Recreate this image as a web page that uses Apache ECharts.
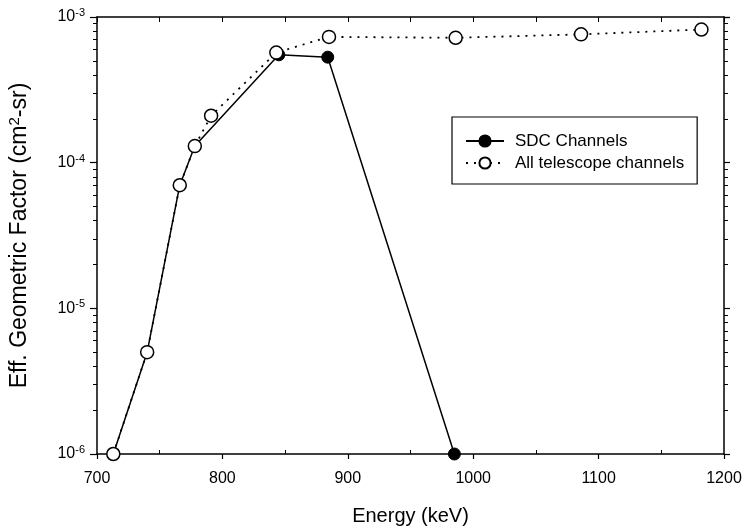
<!DOCTYPE html>
<html>
<head>
<meta charset="utf-8">
<script src="https://cdn.jsdelivr.net/npm/echarts@6/dist/echarts.min.js"></script>
<style>
  html, body { margin: 0; padding: 0; background: #fff; }
  #container { width: 743px; height: 529px; }
</style>
</head>
<body>
<div id="container"></div>
<script>
// data
var sdcEnergy = [713, 740, 766, 778, 845, 884, 985];
var sdcFactor = [1.0e-6, 5.0e-6, 7.0e-5, 1.3e-4, 5.5e-4, 5.3e-4, 1.0e-6];

var allEnergy = [713, 740, 766, 778, 791, 843, 885, 986, 1086, 1182];
var allFactor = [1.0e-6, 5.0e-6, 7.0e-5, 1.3e-4, 2.1e-4, 5.7e-4, 7.3e-4, 7.2e-4, 7.6e-4, 8.2e-4];

var xMinorTicks = [750, 850, 950, 1050, 1150];
var seriesNames = ['SDC Channels', 'All telescope channels'];

function pairs(xs, ys) {
    var out = [];
    for (var i = 0; i < xs.length; i++) out.push([xs[i], ys[i]]);
    return out;
}

// 2..9 in every decade between 1e-6 and 1e-3
var yMinorTicks = [];
for (var e = -6; e < -3; e++) {
    for (var m = 2; m <= 9; m++) yMinorTicks.push(m * Math.pow(10, e));
}

var font = 'Liberation Sans';
var black = '#000';

function expLabel(v) {
    var ex = Math.round(Math.log(v) / Math.LN10);
    return '{b|10}{s|' + ex + '}';
}

var dom = document.getElementById('container');
var myChart = echarts.init(dom);

var logBase = {
    type: 'log',
    logBase: 10,
    min: 1e-6,
    max: 1e-3,
    splitLine: { show: false }
};

option = {
    backgroundColor: '#fff',
    animation: false,
    textStyle: { fontFamily: font, color: black },
    grid: { left: 97, right: 19, top: 17, bottom: 75, outerBoundsMode: 'none' },
    legend: {
        left: 452,
        top: 117,
        orient: 'vertical',
        padding: [15, 13, 12, 13],
        itemGap: 4,
        itemWidth: 38,
        itemHeight: 14,
        borderColor: black,
        borderWidth: 1.2,
        backgroundColor: '#fff',
        selectedMode: false,
        textStyle: { fontFamily: font, fontSize: 17, lineHeight: 18, color: black, padding: [0, 0, 0, 6] },
        data: seriesNames
    },
    xAxis: [{
        type: 'value',
        position: 'bottom',
        min: 700,
        max: 1200,
        interval: 100,
        name: 'Energy (keV)',
        nameLocation: 'middle',
        nameGap: 52,
        nameTextStyle: { fontFamily: font, fontSize: 20, color: black },
        axisLine: { lineStyle: { color: black, width: 1.5 } },
        axisTick: { inside: false, length: 5, lineStyle: { color: black, width: 1.2 } },
        axisLabel: {
            fontFamily: font, fontSize: 16, color: black, margin: 17,
            formatter: function(v) { return String(v); }
        },
        splitLine: { show: false }
    }, {
        type: 'value',
        position: 'bottom',
        min: 700,
        max: 1200,
        axisLine: { show: false },
        axisTick: { inside: true, length: 4, customValues: xMinorTicks, lineStyle: { color: black, width: 1 } },
        axisLabel: { show: false },
        splitLine: { show: false }
    }, {
        type: 'value',
        position: 'top',
        min: 700,
        max: 1200,
        interval: 50,
        axisLine: { lineStyle: { color: black, width: 1.5 } },
        axisTick: { inside: true, length: 5, lineStyle: { color: black, width: 1 } },
        axisLabel: { show: false },
        splitLine: { show: false }
    }],
    yAxis: [echarts.util.merge({
        position: 'left',
        name: '{t|Eff. Geometric Factor (cm}{s|2}{t|-sr)}',
        nameLocation: 'middle',
        nameGap: 65,
        nameTextStyle: {
            fontFamily: font, fontSize: 23, color: black,
            rich: {
                t: { fontFamily: font, fontSize: 23, color: black },
                s: { fontFamily: font, fontSize: 15, color: black, padding: [0, 0, 10, 0] }
            }
        },
        axisLine: { show: true, lineStyle: { color: black, width: 1.5 } },
        axisTick: { show: true, inside: false, length: 7, lineStyle: { color: black, width: 1.2 } },
        axisLabel: {
            formatter: expLabel,
            margin: 12,
            rich: {
                b: { fontFamily: font, fontSize: 16, color: black },
                s: { fontFamily: font, fontSize: 11, color: black, padding: [0, 0, 8, 0] }
            }
        }
    }, logBase, true), echarts.util.merge({
        position: 'left',
        axisLine: { show: false },
        axisTick: { show: true, inside: false, length: 4, customValues: yMinorTicks, lineStyle: { color: black, width: 1 } },
        axisLabel: { show: false }
    }, logBase, true), echarts.util.merge({
        position: 'right',
        axisLine: { show: true, lineStyle: { color: black, width: 1.5 } },
        axisTick: { show: true, inside: false, length: 6, lineStyle: { color: black, width: 1.2 } },
        axisLabel: { show: false }
    }, logBase, true), echarts.util.merge({
        position: 'right',
        axisLine: { show: false },
        axisTick: { show: true, inside: false, length: 4, customValues: yMinorTicks, lineStyle: { color: black, width: 1 } },
        axisLabel: { show: false }
    }, logBase, true)],
    series: [{
        name: seriesNames[0],
        type: 'line',
        xAxisIndex: 0,
        yAxisIndex: 0,
        data: pairs(sdcEnergy, sdcFactor),
        symbol: 'circle',
        symbolSize: 12,
        z: 2,
        lineStyle: { color: black, width: 1.5, type: 'solid' },
        itemStyle: { color: black, borderColor: black, borderWidth: 1 }
    }, {
        name: seriesNames[1],
        type: 'line',
        xAxisIndex: 0,
        yAxisIndex: 0,
        data: pairs(allEnergy, allFactor),
        symbol: 'circle',
        symbolSize: 13,
        z: 3,
        lineStyle: { color: black, width: 1.8, type: [2, 6] },
        itemStyle: { color: '#fff', borderColor: black, borderWidth: 1.5 }
    }]
};

if (option && typeof option === 'object') {
    myChart.setOption(option, true);
}
</script>
</body>
</html>
